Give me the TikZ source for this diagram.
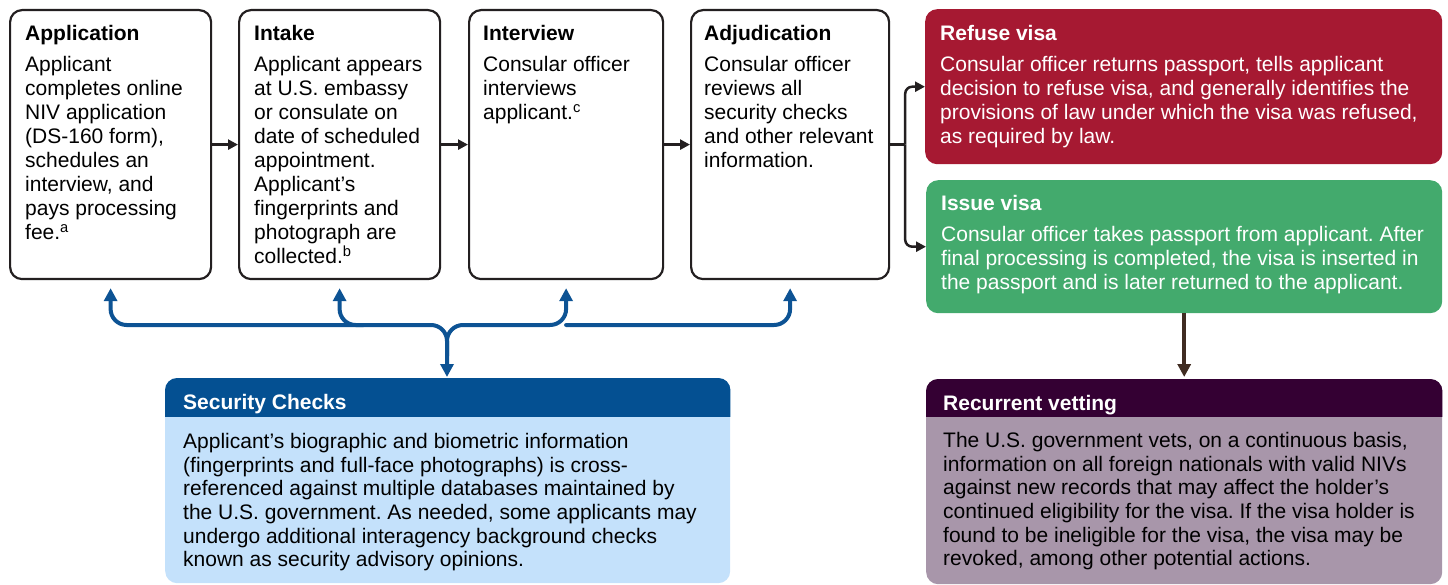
\documentclass[tikz,border=0pt]{standalone}
\usepackage{fontspec}
\setmainfont{Liberation Sans}
\usetikzlibrary{arrows.meta,calc}
\definecolor{refusered}{RGB}{166,25,50}
\definecolor{issuegreen}{RGB}{67,170,109}
\definecolor{secblue}{RGB}{4,80,146}
\definecolor{seclight}{RGB}{196,225,251}
\definecolor{recpurple}{RGB}{52,0,51}
\definecolor{reclight}{RGB}{168,150,170}
\definecolor{linkblue}{RGB}{13,83,148}
\definecolor{arrowbrown}{RGB}{64,44,34}
\definecolor{inkblack}{RGB}{35,31,32}
\frenchspacing
\tikzset{
  stepbox/.style={draw=inkblack, line width=2.2pt, fill=white, rounded corners=12pt,
    anchor=north west, inner sep=0pt},
  colbox/.style={rounded corners=12pt, anchor=north west, inner sep=0pt},
  bodytext/.style={anchor=north west, inner sep=0pt, align=left,
    font=\fontsize{21}{24}\selectfont},
  lowtext/.style={bodytext, font=\fontsize{21}{23.6}\selectfont},
  flow/.style={draw=inkblack, line width=2.5pt, -{Triangle[length=10pt,width=10pt]}},
  bluelink/.style={draw=linkblue, line width=4pt, rounded corners=16pt, line cap=round},
  bluetip/.tip={Triangle[length=13pt,width=13pt]},
}
\newcommand{\boxtitle}[1]{\strut\textbf{#1}\\[7pt]}
\begin{document}
\begin{tikzpicture}[x=1pt,y=-1pt]
\useasboundingbox (0,0) rectangle (1448,585);
\clip (0,0) rectangle (1448,585);

% process boxes
\node[stepbox, minimum width=201, minimum height=269] (app) at (9,9) {};
\node[stepbox, minimum width=201, minimum height=269] (intk) at (238,9) {};
\node[stepbox, minimum width=194, minimum height=269] (intv) at (468,9) {};
\node[stepbox, minimum width=198, minimum height=269] (adj) at (690,9) {};

\node[bodytext] (appt) at (25,24) {\boxtitle{Application}
Applicant\\ completes online\\ NIV application\\ (DS-160 form),\\ schedules an\\ interview, and\\ pays processing\\ fee.\textsuperscript{a}};
\node[bodytext] (intkt) at (254,24) {\boxtitle{Intake}
Applicant appears\\ at U.S. embassy\\ or consulate on\\ date of scheduled\\ appointment.\\ Applicant’s\\ fingerprints and\\ photograph are\\ collected.\textsuperscript{b}};
\node[bodytext] (intvt) at (483,24) {\boxtitle{Interview}
Consular officer\\ interviews\\ applicant.\textsuperscript{c}};
\node[bodytext] (adjt) at (704,24) {\boxtitle{Adjudication}
Consular officer\\ reviews all\\ security checks\\ and other relevant\\ information.};

% outcome boxes
\node[colbox, fill=refusered, minimum width=517, minimum height=155] (refuse) at (925,9) {};
\node[bodytext, text=white] (refuset) at (940,24) {\boxtitle{Refuse visa}
Consular officer returns passport, tells applicant\\ decision to refuse visa, and generally identifies the\\ provisions of law under which the visa was refused,\\ as required by law.};
\node[colbox, fill=issuegreen, minimum width=516, minimum height=133] (issue) at (926,180) {};
\node[bodytext, text=white] (issuet) at (941,194) {\boxtitle{Issue visa}
Consular officer takes passport from applicant. After\\ final processing is completed, the visa is inserted in\\ the passport and is later returned to the applicant.};

% security checks
\node[colbox, fill=seclight, minimum width=565, minimum height=205] (sec) at (165,378) {};
\begin{scope}
  \clip (150,370) rectangle (740,416);
  \fill[secblue, rounded corners=12pt] (sec.north west) rectangle (sec.south east);
\end{scope}
\node[bodytext, text=white, font=\fontsize{21}{24}\selectfont\bfseries] (sect) at (183,392) {\strut Security Checks};
\node[lowtext] (secb) at (183,432) {\strut Applicant’s biographic and biometric information\\ (fingerprints and full-face photographs) is cross-\\ referenced against multiple databases maintained by\\ the U.S. government. As needed, some applicants may\\ undergo additional interagency background checks\\ known as security advisory opinions.};

% recurrent vetting
\node[colbox, fill=reclight, minimum width=516, minimum height=205] (rec) at (926,379) {};
\begin{scope}
  \clip (910,370) rectangle (1448,416);
  \fill[recpurple, rounded corners=12pt] (rec.north west) rectangle (rec.south east);
\end{scope}
\node[bodytext, text=white, font=\fontsize{21}{24}\selectfont\bfseries] (rect) at (943,393) {\strut Recurrent vetting};
\node[lowtext] (recb) at (943,431) {\strut The U.S. government vets, on a continuous basis,\\ information on all foreign nationals with valid NIVs\\ against new records that may affect the holder’s\\ continued eligibility for the visa. If the visa holder is\\ found to be ineligible for the visa, the visa may be\\ revoked, among other potential actions.};

% process flow
\draw[flow] (app) -- (intk);
\draw[flow] (intk) -- (intv);
\draw[flow] (intv) -- (adj);
\draw[draw=inkblack, line width=2.5pt] (adj.east) -- ++(15,0) coordinate (fork);
\draw[flow, rounded corners=7pt] (fork) |- (refuse.west);
\draw[flow, rounded corners=7pt] (fork) |- (issue.west);
\draw[draw=arrowbrown, line width=3.5pt, -{Triangle[length=13pt,width=13pt]}] (issue.south) -- ([yshift=2pt]rec.north);

% security check links
\coordinate (hl) at (0,325);
\coordinate (jn) at (447,325);
\coordinate (jb) at (447,356);
\draw[bluelink, bluetip-bluetip] ([yshift=-8pt]app.south) -- (app.south |- hl) -- (jn) -- ([yshift=1pt]sec.north -| jn);
\draw[bluelink, -bluetip] (jb) -- (jn) -- (intv.south |- hl) -- ([yshift=-8pt]intv.south);
\draw[bluelink, -bluetip] ([xshift=24pt]intk.south |- hl) -- (intk.south |- hl) -- ([yshift=-8pt]intk.south);
\draw[bluelink, -bluetip] (intv.south |- hl) -- (adj.south |- hl) -- ([yshift=-8pt]adj.south);
\end{tikzpicture}
\end{document}
